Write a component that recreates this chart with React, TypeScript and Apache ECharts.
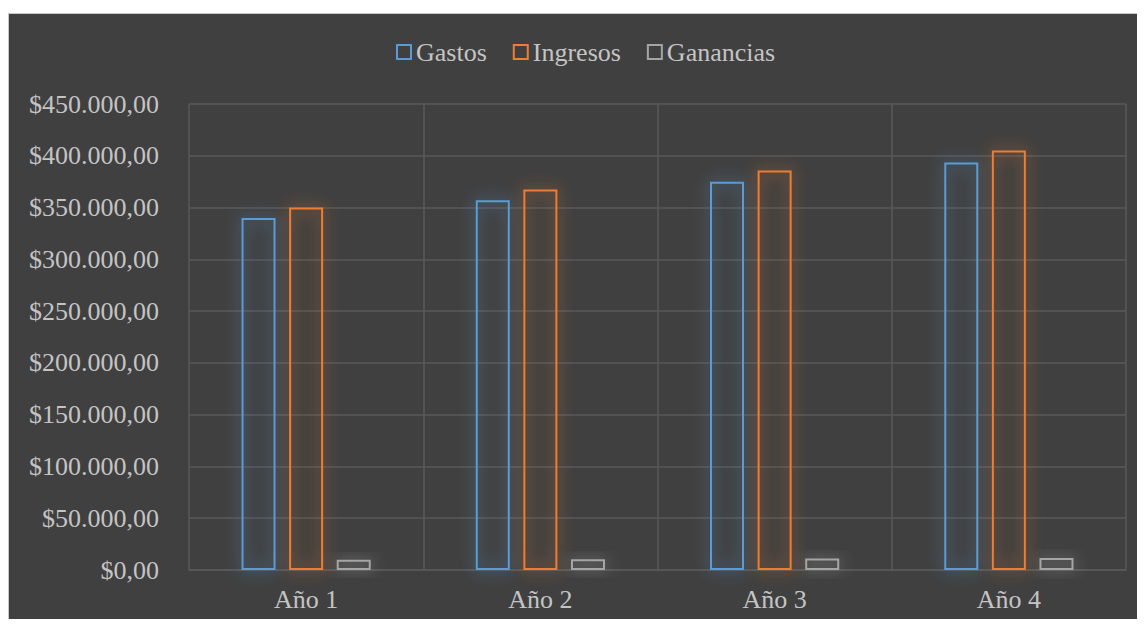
import React, { useEffect, useRef } from "react";
import * as echarts from "echarts";

const categories = ["Año 1", "Año 2", "Año 3", "Año 4"];
const gastos = [340000, 357000, 374850, 393592.5];
const ingresos = [350000, 367500, 385875, 405168.75];
const ganancias = [10000, 10500, 11025, 11576.25];
const seriesNames = ["Gastos", "Ingresos", "Ganancias"];
const seriesColors = ["#5B9BD5", "#ED7D31", "#A5A5A5"];

const FONT = "'Liberation Serif', 'Times New Roman', serif";
const TEXT = "#c4c4c4";
const GRIDLINE = "#595959";

function fmtMoney(v: number): string {
  const int = Math.round(v).toString().replace(/\B(?=(\d{3})+(?!\d))/g, ".");
  return "$" + int + ",00";
}

export default function App() {
  const ref = useRef<HTMLDivElement>(null);
  useEffect(() => {
    if (!ref.current) return;
    const chart = echarts.init(ref.current, undefined, { renderer: "svg" });
    const datas = [gastos, ingresos, ganancias];
    chart.setOption({
      animation: false,
      backgroundColor: "#404040",
      legend: {
        top: 20,
        left: 382,
        itemWidth: 14,
        itemHeight: 14,
        itemGap: 26,
        textStyle: { color: TEXT, fontFamily: FONT, fontSize: 26, padding: [0, 0, 0, 0] },
        data: seriesNames.map((n, i) => ({
          name: n,
          icon: "rect",
          itemStyle: { color: "rgba(0,0,0,0)", borderColor: seriesColors[i], borderWidth: 2 },
        })),
      },
      grid: { left: 180, right: 18, top: 90, bottom: 53 },
      xAxis: {
        type: "category",
        data: categories,
        boundaryGap: true,
        axisLine: { lineStyle: { color: GRIDLINE, width: 1.5 } },
        axisTick: { show: false },
        splitLine: { show: true, lineStyle: { color: GRIDLINE, width: 1.5 } },
        axisLabel: { color: TEXT, fontFamily: FONT, fontSize: 26, margin: 16 },
      },
      yAxis: {
        type: "value",
        min: 0,
        max: 450000,
        interval: 50000,
        axisLine: { show: false },
        axisTick: { show: false },
        splitLine: { lineStyle: { color: GRIDLINE, width: 1.5 } },
        axisLabel: { color: TEXT, fontFamily: FONT, fontSize: 26, margin: 30, formatter: fmtMoney },
      },
      series: seriesNames.map((n, i) => ({
        name: n,
        type: "bar",
        data: datas[i],
        barWidth: 34,
        barGap: "40%",
        itemStyle: {
          color: "rgba(64,64,64,0.01)",
          borderColor: seriesColors[i],
          borderWidth: 2,
          shadowBlur: 16,
          shadowColor: seriesColors[i],
        },
      })),
    });
    return () => chart.dispose();
  }, []);
  return (
    <div
      ref={ref}
      style={{
        position: "relative",
        top: 5,
        width: 1137,
        height: 611,
        boxSizing: "border-box",
        border: "1px solid #c8c8c8",
      }}
    />
  );
}
